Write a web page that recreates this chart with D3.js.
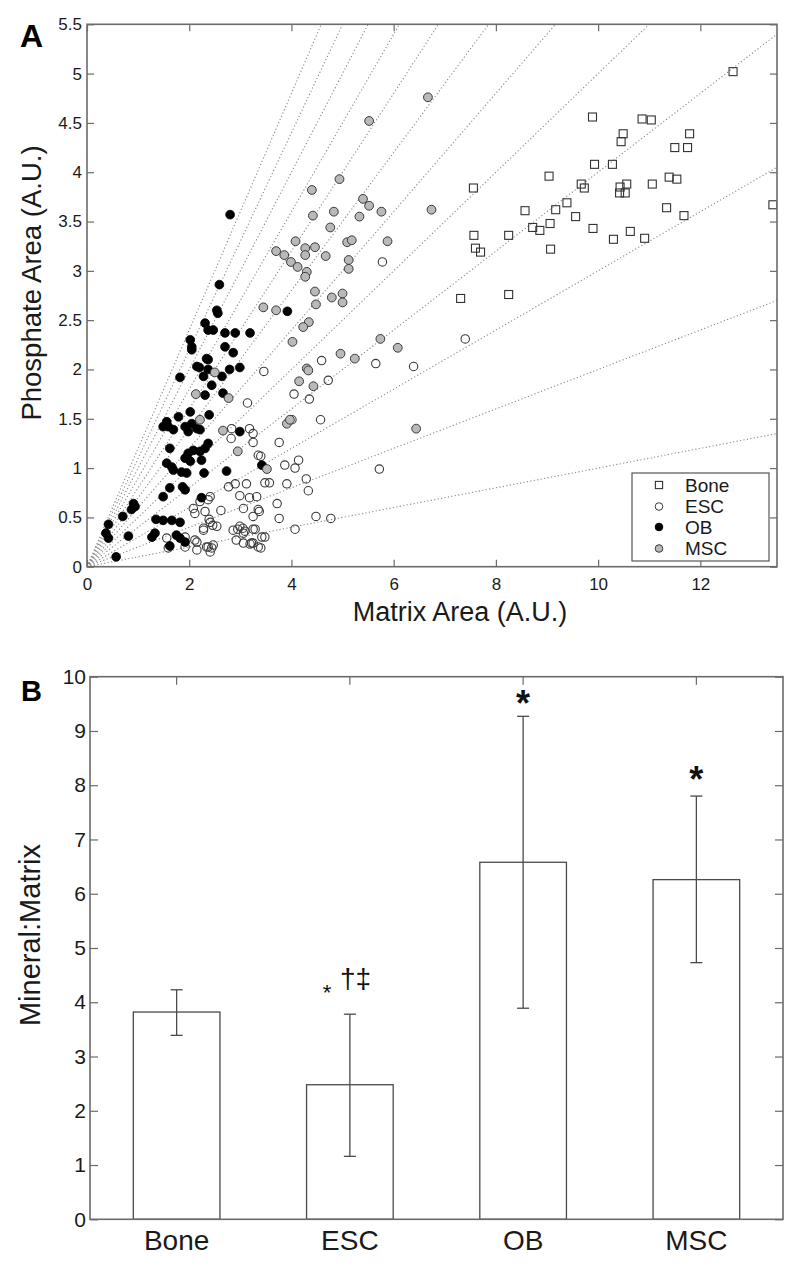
<!DOCTYPE html>
<html><head><meta charset="utf-8">
<script src="https://cdn.jsdelivr.net/npm/d3@7"></script>
<style>
body{margin:0;background:#fff;}
svg{display:block;font-family:"Liberation Sans",Arial,Helvetica,sans-serif;}
</style></head><body>
<svg id="chart" width="800" height="1267"></svg>
<script>
// ---------- Panel A data ----------
const boneX = [12.64,9.89,10.86,11.04,10.49,10.45,11.79,11.50,11.75,9.93,10.28,9.04,7.56,9.67,9.73,10.43,10.56,10.42,10.53,11.06,11.39,11.54,9.39,8.57,9.17,9.56,11.34,11.68,13.42,8.72,8.86,9.06,7.57,8.25,9.90,10.63,10.30,10.91,7.60,7.70,9.07,7.31,8.25];
const boneY = [5.02,4.56,4.54,4.53,4.39,4.31,4.39,4.25,4.25,4.08,4.08,3.96,3.84,3.88,3.84,3.85,3.88,3.79,3.79,3.88,3.95,3.93,3.69,3.61,3.62,3.55,3.64,3.56,3.67,3.44,3.41,3.48,3.36,3.36,3.43,3.40,3.32,3.33,3.23,3.19,3.22,2.72,2.76];

const escX = [7.40,5.78,5.65,6.39,4.59,4.72,3.46,4.05,4.35,3.14,4.01,4.57,2.83,2.82,3.18,3.25,3.25,3.76,3.35,3.40,3.87,4.14,4.07,5.72,2.77,3.12,3.48,3.57,3.91,4.29,4.33,2.99,3.18,3.32,3.72,3.06,3.35,3.37,3.25,3.76,4.48,4.77,2.62,4.07,2.95,3.05,3.25,3.06,2.92,3.06,3.19,3.25,3.40,3.42,3.48,2.41,2.37,2.47,2.44,2.41,2.15,2.21,2.08,2.37,2.41,2.39,2.46,2.54,2.28,2.11,1.56,1.59,1.92,2.15,2.34,1.92,2.90,2.31,2.11,2.28,2.86,2.99,3.09,3.29,3.22,3.35];
const escY = [2.31,3.09,2.06,2.03,2.09,1.89,1.98,1.75,1.70,1.66,1.49,1.49,1.40,1.30,1.40,1.35,1.26,1.26,1.13,1.12,1.03,1.08,1.00,0.99,0.81,0.84,0.85,0.85,0.84,0.89,0.77,0.72,0.70,0.71,0.64,0.59,0.58,0.56,0.51,0.49,0.51,0.49,0.57,0.38,0.38,0.39,0.38,0.34,0.27,0.24,0.23,0.24,0.19,0.30,0.30,0.45,0.20,0.22,0.19,0.15,0.17,0.66,0.59,0.68,0.71,0.48,0.42,0.41,0.39,0.54,0.29,0.19,0.30,0.25,0.20,0.20,0.84,0.56,0.27,0.37,0.37,0.41,0.36,0.38,0.24,0.20];

const obX = [2.59,2.80,2.54,2.56,2.31,2.37,2.47,2.70,2.90,3.19,2.02,2.05,2.05,2.70,2.86,2.34,2.37,2.20,2.37,2.28,2.64,2.79,2.99,1.82,2.44,2.31,2.66,2.02,2.39,1.79,1.56,1.49,1.59,1.69,1.92,2.05,2.15,2.21,1.98,2.99,2.37,2.31,2.21,2.08,1.62,1.98,1.92,2.02,2.24,1.56,1.66,1.69,1.85,1.95,2.29,2.73,3.42,1.87,1.92,1.62,1.49,2.24,0.91,0.94,0.87,0.70,0.42,0.37,0.42,0.81,1.35,1.49,1.66,1.82,1.27,1.33,1.75,1.82,1.92,1.62,0.57,3.92,2.15];
const obY = [2.86,3.57,2.60,2.57,2.47,2.40,2.40,2.37,2.37,2.37,2.30,2.23,2.20,2.23,2.17,2.11,2.10,2.02,2.00,1.93,1.93,2.00,2.02,1.92,1.84,1.74,1.76,1.57,1.54,1.52,1.47,1.42,1.42,1.39,1.42,1.45,1.40,1.39,1.37,1.37,1.25,1.20,1.17,1.18,1.20,1.15,1.10,1.07,1.08,1.05,1.01,0.98,0.96,0.95,0.95,0.97,1.03,0.81,0.78,0.80,0.71,0.70,0.64,0.61,0.58,0.51,0.43,0.34,0.29,0.31,0.48,0.47,0.47,0.45,0.30,0.34,0.32,0.29,0.25,0.21,0.10,2.59,2.03];

const mscX = [6.67,5.52,4.94,4.40,5.40,5.52,5.76,4.83,4.42,5.33,6.74,4.76,4.08,5.09,5.18,5.88,3.70,3.86,4.27,4.27,4.46,4.67,3.99,4.12,5.12,5.12,4.30,4.27,4.46,4.79,5.00,5.00,4.48,3.45,3.70,4.34,4.23,4.02,5.74,6.08,4.96,5.24,4.30,4.33,4.15,4.43,3.91,3.97,6.44,2.77,2.66,2.95,3.52,2.21,2.50,2.13];
const mscY = [4.76,4.52,3.93,3.82,3.73,3.66,3.60,3.60,3.56,3.55,3.62,3.44,3.30,3.29,3.31,3.30,3.20,3.16,3.23,3.16,3.24,3.15,3.09,3.04,3.11,3.02,2.99,2.94,2.79,2.73,2.77,2.68,2.66,2.63,2.60,2.48,2.43,2.28,2.31,2.22,2.16,2.11,2.01,1.99,1.88,1.83,1.45,1.49,1.40,1.71,1.38,1.17,0.99,1.49,1.97,1.75];

// reference lines through the origin (phosphate/matrix ratios)
const ratioLines = [0.1,0.2,0.3,0.4,0.5,0.6,0.7,0.8,0.9,1.0,1.1,1.2];

const xTicksA = [0,2,4,6,8,10,12];
const yTicksA = [0,0.5,1,1.5,2,2.5,3,3.5,4,4.5,5,5.5];
const legendLabels = ["Bone","ESC","OB","MSC"];

// ---------- Panel B data ----------
const barCategories = ["Bone","ESC","OB","MSC"];
const barMeans = [3.82,2.48,6.58,6.26];
const errLow  = [3.39,1.16,3.89,4.73];
const errHigh = [4.23,3.78,9.27,7.80];
const yTicksB = [0,1,2,3,4,5,6,7,8,9,10];

// ---------- drawing ----------
const svg = d3.select("#chart");
const axisColor = "#6b6b6b";
const textColor = "#1a1a1a";

// ===== Panel A =====
const A = {left:87, right:777, top:24.3, bottom:566.7};
const xA = d3.scaleLinear().domain([0,13.5]).range([A.left, A.right]);
const yA = d3.scaleLinear().domain([0,5.5]).range([A.bottom, A.top]);

svg.append("defs").append("clipPath").attr("id","clipA")
  .append("rect").attr("x",A.left).attr("y",A.top)
  .attr("width",A.right-A.left).attr("height",A.bottom-A.top);

const gA = svg.append("g");

// dotted ratio lines
gA.append("g").attr("clip-path","url(#clipA)")
  .selectAll("line").data(ratioLines).join("line")
  .attr("x1",xA(0)).attr("y1",yA(0))
  .attr("x2",d=>xA(13.5)).attr("y2",d=>yA(13.5*d))
  .attr("stroke","#8a8a8a").attr("stroke-width",1.1)
  .attr("stroke-dasharray","1.2,2.3");

// points
const pts = (xs,ys)=>xs.map((x,i)=>({x, y:ys[i]}));
const gP = gA.append("g").attr("clip-path","url(#clipA)");
gP.append("g").selectAll("rect").data(pts(boneX,boneY)).join("rect")
  .attr("x",d=>xA(d.x)-4).attr("y",d=>yA(d.y)-4).attr("width",8).attr("height",8)
  .attr("fill","none").attr("stroke","#333").attr("stroke-width",1.1);
gP.append("g").selectAll("circle").data(pts(escX,escY)).join("circle")
  .attr("cx",d=>xA(d.x)).attr("cy",d=>yA(d.y)).attr("r",4.2)
  .attr("fill","none").attr("stroke","#3a3a3a").attr("stroke-width",1.1);
gP.append("g").selectAll("circle").data(pts(obX,obY)).join("circle")
  .attr("cx",d=>xA(d.x)).attr("cy",d=>yA(d.y)).attr("r",4.4)
  .attr("fill","#000").attr("stroke","#000").attr("stroke-width",0.8);
gP.append("g").selectAll("circle").data(pts(mscX,mscY)).join("circle")
  .attr("cx",d=>xA(d.x)).attr("cy",d=>yA(d.y)).attr("r",4.4)
  .attr("fill","#b9b9b9").attr("stroke","#3a3a3a").attr("stroke-width",1);

// axes A
const styleAxis = g => {
  g.select(".domain").remove();
  g.selectAll(".tick line").attr("stroke",axisColor).attr("stroke-width",1.2);
  g.selectAll(".tick text").attr("fill",textColor).style("font-family","Liberation Sans, Arial, sans-serif");
};
gA.append("g").attr("transform",`translate(0,${A.bottom})`)
  .call(d3.axisBottom(xA).tickValues(xTicksA).tickFormat(d=>String(d)).tickSizeInner(-7).tickSizeOuter(0).tickPadding(11))
  .call(styleAxis).selectAll("text").attr("font-size",17);
gA.append("g").attr("transform",`translate(0,${A.top})`)
  .call(d3.axisTop(xA).tickValues(xTicksA).tickFormat("").tickSizeInner(-7).tickSizeOuter(0))
  .call(styleAxis);
gA.append("g").attr("transform",`translate(${A.left},0)`)
  .call(d3.axisLeft(yA).tickValues(yTicksA).tickFormat(d=>String(d)).tickSizeInner(-7).tickSizeOuter(0).tickPadding(5))
  .call(styleAxis).selectAll("text").attr("font-size",17);
gA.append("g").attr("transform",`translate(${A.right},0)`)
  .call(d3.axisRight(yA).tickValues(yTicksA).tickFormat("").tickSizeInner(-7).tickSizeOuter(0))
  .call(styleAxis);
gA.append("rect").attr("x",A.left).attr("y",A.top)
  .attr("width",A.right-A.left).attr("height",A.bottom-A.top)
  .attr("fill","none").attr("stroke",axisColor).attr("stroke-width",1.6);

// legend
const L = {x:632, y:473, w:137, h:88};
const gL = gA.append("g");
gL.append("rect").attr("x",L.x).attr("y",L.y).attr("width",L.w).attr("height",L.h)
  .attr("fill","#fff").attr("stroke","#555").attr("stroke-width",1.2);
const rowY = [485, 506.5, 527, 548.5];
legendLabels.forEach((lab,i)=>{
  const cx = 659, cy = rowY[i];
  if(i===0){
    gL.append("rect").attr("x",cx-3.6).attr("y",cy-3.6).attr("width",7.2).attr("height",7.2)
      .attr("fill","none").attr("stroke","#333").attr("stroke-width",1.1);
  } else {
    const fill = i===1?"none":(i===2?"#000":"#b9b9b9");
    gL.append("circle").attr("cx",cx).attr("cy",cy).attr("r",3.8)
      .attr("fill",fill).attr("stroke",i===2?"#000":"#3a3a3a").attr("stroke-width",1);
  }
  gL.append("text").attr("x",685).attr("y",cy).attr("dy","0.36em")
    .attr("font-size",19).attr("fill",textColor).text(lab);
});

// titles A
svg.append("text").attr("x",460).attr("y",621).attr("text-anchor","middle")
  .attr("font-size",27).attr("fill",textColor).text("Matrix Area (A.U.)");
svg.append("text").attr("transform","translate(41,283) rotate(-90)").attr("text-anchor","middle")
  .attr("font-size",27.5).attr("fill",textColor).text("Phosphate Area (A.U.)");
svg.append("text").attr("x",20).attr("y",46.5).attr("font-size",32).attr("font-weight","bold")
  .attr("fill","#000").text("A");

// ===== Panel B =====
const B = {left:90, right:783, top:676.7, bottom:1219.3};
const xB = d3.scaleBand().domain(barCategories).range([B.left,B.right]).paddingInner(0.5).paddingOuter(0.25);
const yB = d3.scaleLinear().domain([0,10]).range([B.bottom,B.top]);
const gB = svg.append("g");

gB.selectAll("rect.bar").data(barCategories).join("rect").attr("class","bar")
  .attr("x",d=>xB(d)).attr("width",xB.bandwidth())
  .attr("y",(d,i)=>yB(barMeans[i])).attr("height",(d,i)=>yB(0)-yB(barMeans[i]))
  .attr("fill","#fff").attr("stroke","#4a4a4a").attr("stroke-width",1.3);

const cx = d=>xB(d)+xB.bandwidth()/2;
gB.selectAll("line.err").data(barCategories).join("line").attr("class","err")
  .attr("x1",cx).attr("x2",cx)
  .attr("y1",(d,i)=>yB(errLow[i])).attr("y2",(d,i)=>yB(errHigh[i]))
  .attr("stroke","#4a4a4a").attr("stroke-width",1.3);
[errLow,errHigh].forEach(arr=>{
  gB.append("g").selectAll("line").data(barCategories).join("line")
    .attr("x1",d=>cx(d)-6).attr("x2",d=>cx(d)+6)
    .attr("y1",(d,i)=>yB(arr[i])).attr("y2",(d,i)=>yB(arr[i]))
    .attr("stroke","#4a4a4a").attr("stroke-width",1.3);
});

gB.append("g").attr("transform",`translate(0,${B.bottom})`)
  .call(d3.axisBottom(xB).tickSizeInner(0).tickSizeOuter(0).tickPadding(11))
  .call(styleAxis).selectAll("text").attr("font-size",28);
gB.append("g").attr("transform",`translate(0,${B.top})`)
  .call(d3.axisTop(xB).tickFormat("").tickSizeInner(-8).tickSizeOuter(0))
  .call(styleAxis);
gB.append("g").attr("transform",`translate(${B.left},0)`)
  .call(d3.axisLeft(yB).tickValues(yTicksB).tickFormat(d=>String(d)).tickSizeInner(-8).tickSizeOuter(0).tickPadding(4))
  .call(styleAxis).selectAll("text").attr("font-size",21);
gB.append("g").attr("transform",`translate(${B.right},0)`)
  .call(d3.axisRight(yB).tickValues(yTicksB).tickFormat("").tickSizeInner(-8).tickSizeOuter(0))
  .call(styleAxis);
gB.append("rect").attr("x",B.left).attr("y",B.top)
  .attr("width",B.right-B.left).attr("height",B.bottom-B.top)
  .attr("fill","none").attr("stroke",axisColor).attr("stroke-width",1.6);

// significance marks
gB.append("text").attr("x",cx("OB")).attr("y",716).attr("text-anchor","middle")
  .attr("font-size",36).attr("font-weight","bold").attr("fill","#111").text("*");
gB.append("text").attr("x",cx("MSC")).attr("y",792).attr("text-anchor","middle")
  .attr("font-size",36).attr("font-weight","bold").attr("fill","#111").text("*");
gB.append("text").attr("x",327).attr("y",1000).attr("text-anchor","middle")
  .attr("font-size",22).attr("fill","#111").text("*");
gB.append("text").attr("x",340).attr("y",988)
  .attr("font-size",28).attr("fill","#111").text("†‡");

svg.append("text").attr("transform","translate(40,935) rotate(-90)").attr("text-anchor","middle")
  .attr("font-size",29).attr("fill",textColor).text("Mineral:Matrix");
svg.append("text").attr("x",21).attr("y",700.5).attr("font-size",29).attr("font-weight","bold")
  .attr("fill","#000").text("B");
</script>
</body></html>
